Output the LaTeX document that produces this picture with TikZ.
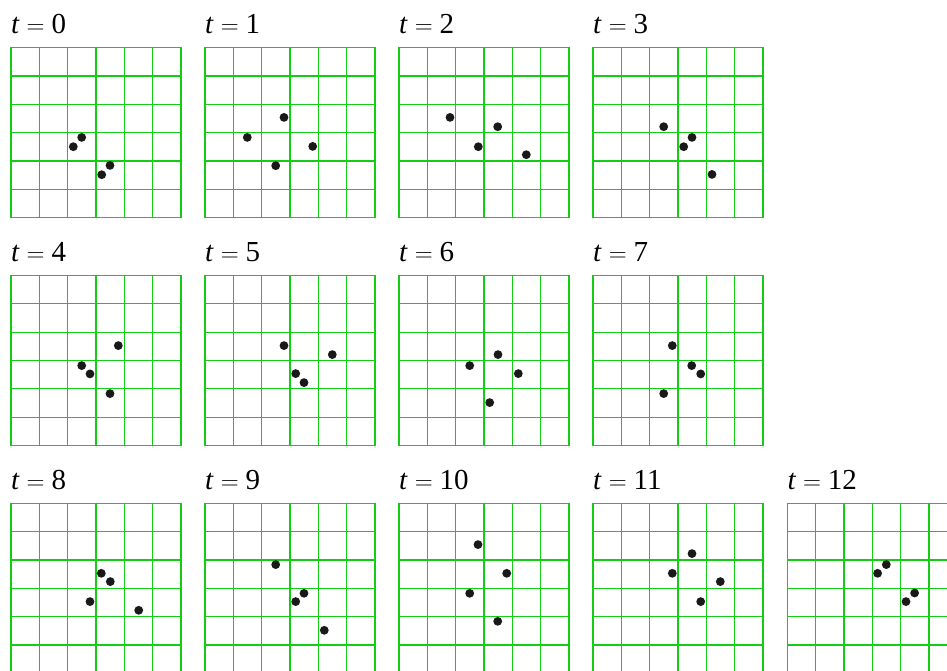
\documentclass[tikz,border=0pt]{standalone}
\usepackage{fontspec}
\setmainfont{Liberation Serif}
\definecolor{gridgreen}{RGB}{20,204,20}
\definecolor{dotblack}{RGB}{25,25,25}
\newcommand\statepanel[5]{%
  \begin{scope}[shift={(#2,#3)}]
    \node[tlabel] (#1lbl) at (0,-14.3) {\textit{t}${}={}$#4};
    \foreach \k in {0,...,6} {
      \draw[gridline] (\k*28.333,0) -- (\k*28.333,170);
      \draw[gridline] (0,\k*28.333) -- (170,\k*28.333);
    }
    \foreach \px/\py [count=\n] in {#5}
      \node[particle] (#1d\n) at (\px,\py) {};
  \end{scope}}
\begin{document}
\begin{tikzpicture}[x=1pt,y=-1pt,
  gridline/.style={draw=gridgreen,line width=1.1pt,line cap=rect},
  particle/.style={circle,fill=dotblack,inner sep=0pt,minimum size=8.8pt},
  tlabel/.style={anchor=base west,inner sep=0pt,font=\fontsize{29}{29}\selectfont}]
\useasboundingbox (0,0) rectangle (947,671);
\clip (0,0) rectangle (947,671);
% row 1
\statepanel{p0}{11}{47.7}{0}{70.7/89.7, 62.3/99, 99/117.7, 90.7/127}
\statepanel{p1}{205}{47.7}{1}{79/69.7, 42.3/89.7, 107.7/98.7, 70.7/118}
\statepanel{p2}{399}{47.7}{2}{51/69.7, 98.7/79, 79.3/99, 127.3/107}
\statepanel{p3}{593}{47.7}{3}{70.7/79, 99/89.7, 90.7/99, 119/126.7}
% row 2
\statepanel{p4}{11}{275.6}{4}{107.3/70, 70.7/90, 79/98.3, 99/118}
\statepanel{p5}{205}{275.6}{5}{79/70, 127.3/79, 90.7/98, 99/107}
\statepanel{p6}{399}{275.6}{6}{99/79, 70.7/90, 119.3/98, 90.7/127}
\statepanel{p7}{593}{275.6}{7}{79.3/70, 98.7/90, 107.7/98.3, 70.7/118}
% row 3
\statepanel{p8}{11}{503.3}{8}{90.3/70, 99.3/78.3, 79/98.3, 127.7/107}
\statepanel{p9}{205}{503.3}{9}{70.7/61.3, 99/90, 90.7/98.3, 119.3/127}
\statepanel{p10}{399}{503.3}{10}{79/41.3, 107.7/70, 70.7/90, 98.7/118}
\statepanel{p11}{593}{503.3}{11}{99/50.3, 79.3/70, 127.3/78.3, 107.7/98.3}
\statepanel{p12}{787.3}{503.3}{12}{99/61.3, 90.3/70, 127.3/89.7, 118.7/98.3}
\end{tikzpicture}
\end{document}
